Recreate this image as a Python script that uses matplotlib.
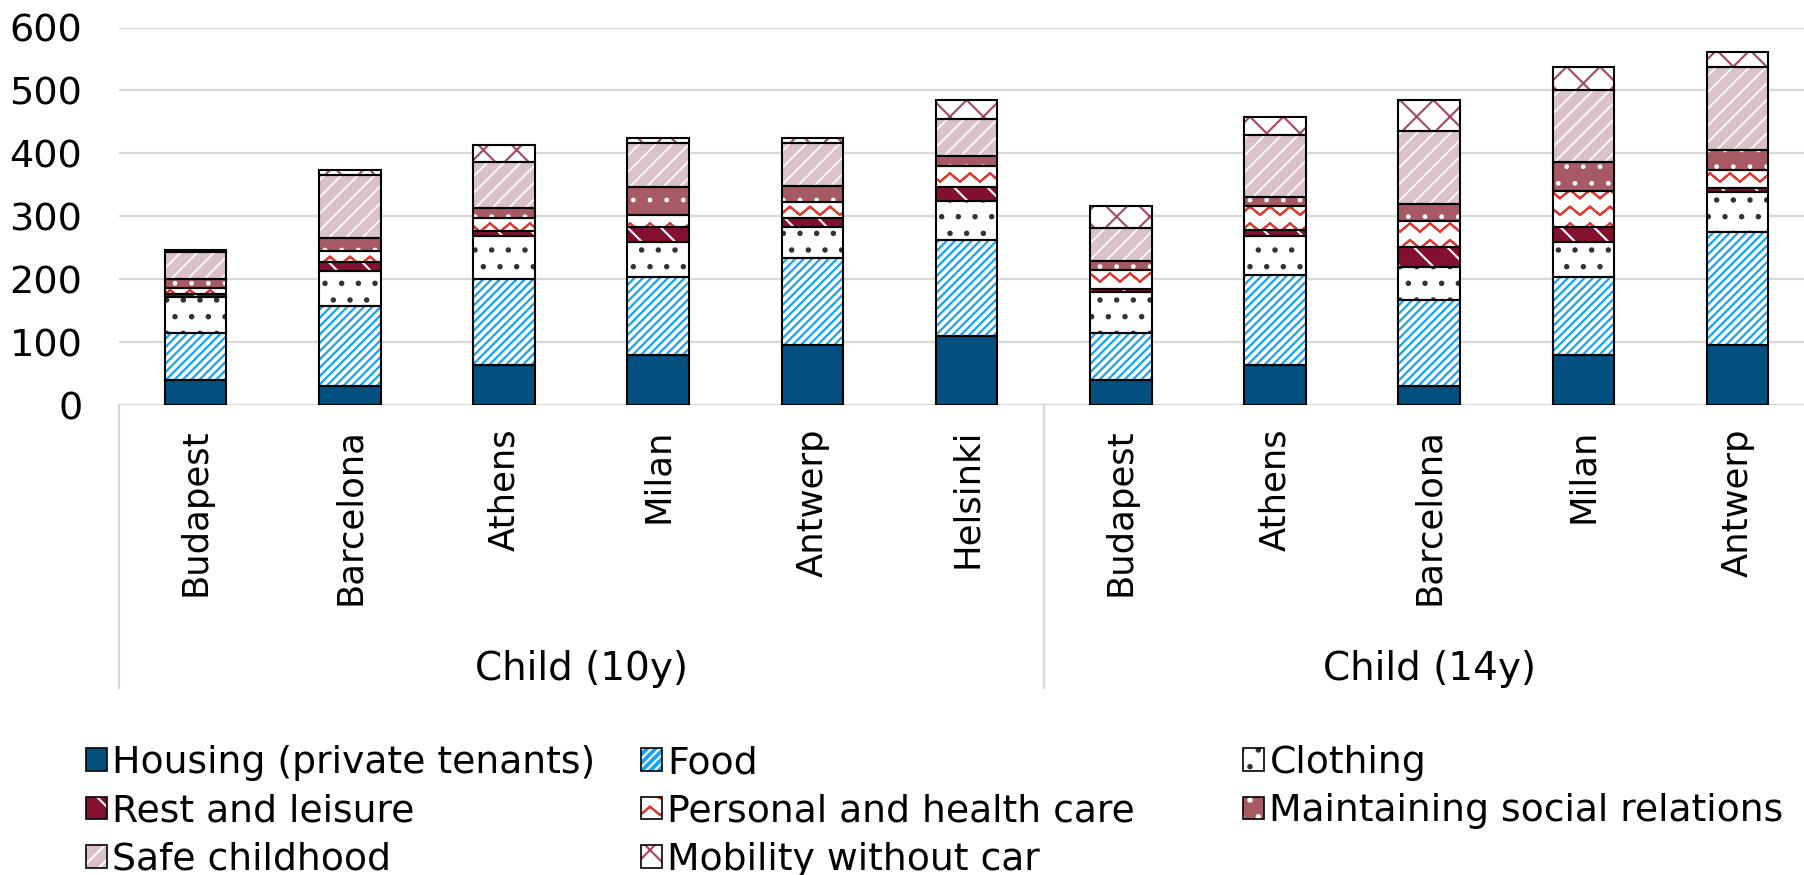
import warnings
warnings.filterwarnings("ignore")
import numpy as np
import matplotlib
matplotlib.use("Agg")
import matplotlib.pyplot as plt
import matplotlib.patches as mpatches
import matplotlib.hatch as mhatch
import matplotlib.transforms as mtrans
from matplotlib.path import Path
from matplotlib.legend_handler import HandlerTuple

# ---------------- data ----------------
cities = ['Budapest', 'Barcelona', 'Athens', 'Milan', 'Antwerp', 'Helsinki',
          'Budapest', 'Athens', 'Barcelona', 'Milan', 'Antwerp']
groups = ['Child (10y)', 'Child (14y)']
group_sizes = [6, 5]

housing = [39, 31, 63, 79, 96, 110, 39, 63, 31, 79, 95]
food = [76, 127, 138, 124, 137, 153, 76, 143, 136, 125, 180]
clothing = [56, 55, 67, 56, 50, 62, 64, 63, 52, 55, 63]
rest = [5, 15, 9, 24, 15, 22, 5, 9, 32, 24, 7]
personal = [10, 17, 21, 19, 24, 33, 30, 38, 42, 57, 29]
maintaining = [14, 20, 15, 45, 26, 16, 15, 15, 26, 47, 31]
safe = [43, 100, 74, 70, 69, 59, 52, 99, 116, 114, 133]
mobility = [4, 9, 27, 7, 7, 30, 35, 28, 50, 37, 23]

series_names = ['Housing (private tenants)', 'Food', 'Clothing', 'Rest and leisure',
                'Personal and health care', 'Maintaining social relations',
                'Safe childhood', 'Mobility without car']
series_values = [housing, food, clothing, rest, personal, maintaining, safe, mobility]

yticks = [0, 100, 200, 300, 400, 500, 600]


# ---------------- custom zigzag hatch (stroked only: path retraces itself) ----------------
class ZigZagHatch(mhatch.HatchPatternBase):
    def __init__(self, hatch, density):
        self.num_rows = int(hatch.count('~') * density)
        self.n_seg = 10
        self.num_vertices = self.num_rows * 2 * (self.n_seg + 1)

    def set_vertices_and_codes(self, vertices, codes):
        n = self.n_seg + 1
        xs = np.linspace(0, 1, n)
        k = 0
        for r in range(self.num_rows):
            y0 = r / self.num_rows + 0.1 / self.num_rows
            ys = y0 + (np.arange(n) % 2) * (0.5 / self.num_rows)
            vertices[k:k + n, 0] = xs
            vertices[k:k + n, 1] = ys
            vertices[k + n:k + 2 * n, 0] = xs[::-1]
            vertices[k + n:k + 2 * n, 1] = ys[::-1]
            codes[k] = Path.MOVETO
            codes[k + 1:k + 2 * n] = Path.LINETO
            k += 2 * n


mhatch._hatch_types.append(ZigZagHatch)

# styles: (facecolor, hatchcolor, hatch, hatch linewidth)
styles = [
    ('#02507f', '#02507f', None, 1.5),
    ('#16a4f2', 'white', '////', 2.6),
    ('white', '#333333', '.', 1.5),
    ('#84102f', 'white', '\\', 1.5),
    ('white', '#e0392f', '~', 1.5),
    ('#a85a64', 'white', '.', 1.0),
    ('#dbc2ca', 'white', '//', 1.2),
    ('white', '#a8455f', 'x', 1.5),
]

plt.rcParams['hatch.linewidth'] = 1.5
plt.rcParams['font.family'] = ['DejaVu Sans']

W, H = 1804, 875
fig = plt.figure(figsize=(W / 100, H / 100), dpi=100)
ax_left = 118.5 / W
ax_bottom = 1 - 405 / H
ax_height = (405 - 27.6) / H
ax = fig.add_axes([ax_left, ax_bottom, 1 - ax_left, ax_height])


def set_hlw(artist, lw):
    if hasattr(artist, 'set_hatch_linewidth'):
        try:
            artist.set_hatch_linewidth(lw)
        except Exception:
            pass


x = np.arange(len(cities))
bw = 0.40
bottom = np.zeros(len(cities))
handles = []
for name, vals, (fc, hc, h, hlw) in zip(series_names, series_values, styles):
    vals = np.array(vals, dtype=float)
    bars = ax.bar(x, vals, bw, bottom=bottom, color=fc, edgecolor=hc, hatch=h,
                  linewidth=0, zorder=2)
    for b in bars:
        set_hlw(b, hlw)
    ax.bar(x, vals, bw, bottom=bottom, fill=False, edgecolor='black',
           linewidth=1.5, zorder=3)
    bottom += vals
    p1 = mpatches.Patch(facecolor=fc, edgecolor=hc, hatch=h, linewidth=0)
    set_hlw(p1, hlw)
    p2 = mpatches.Patch(fill=False, edgecolor='black', linewidth=1.2)
    handles.append((p1, p2))

ax.set_ylim(0, 600)
ax.set_xlim(-0.5, (W - 118.5) / 154.2 - 0.5)
ax.set_yticks(yticks)
ax.set_yticklabels([str(v) for v in yticks], fontsize=27.5)
ax.yaxis.grid(True, color='#d9d9d9', linewidth=1.6)
ax.set_axisbelow(True)
for s in ax.spines.values():
    s.set_visible(False)
ax.tick_params(axis='y', length=0, pad=26)
ax.set_xticks(x)
ax.set_xticklabels(cities, rotation=90, fontsize=25.5)
ax.tick_params(axis='x', length=0, pad=17)

trans = mtrans.blended_transform_factory(ax.transData, ax.transAxes)
start = -0.5
for g, n in zip(groups, group_sizes):
    ax.plot([start, start], [0, -0.75], transform=trans, color='#d9d9d9',
            linewidth=1.6, clip_on=False)
    ax.text(start + n / 2, -0.70, g, transform=trans, ha='center', va='center',
            fontsize=28)
    start += n
ax.plot([start, start], [0, -0.75], transform=trans, color='#d9d9d9',
        linewidth=1.6, clip_on=False)

# legend: three columns, row-wise order
col_x = [86 / W, 641 / W, 1243 / W]
top_y = 1 - 745 / H
for c in range(3):
    idx = list(range(c, len(series_names), 3))
    fig.legend([handles[i] for i in idx], [series_names[i] for i in idx],
               handler_map={tuple: HandlerTuple(ndivide=1)},
               loc='upper left', bbox_to_anchor=(col_x[c], top_y),
               frameon=False, fontsize=27.2, borderpad=0, borderaxespad=0,
               handlelength=0.55, handleheight=0.55, handletextpad=0.15,
               labelspacing=0.33)

fig.savefig('out.png', dpi=100)
